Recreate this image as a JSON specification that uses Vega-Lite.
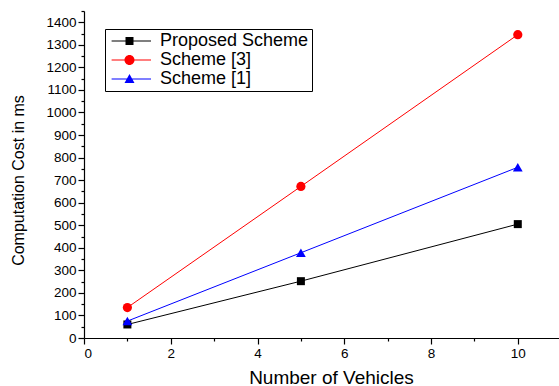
{
  "$schema": "https://vega.github.io/schema/vega-lite/v6.json",
  "width": 475,
  "height": 327,
  "autosize": "none",
  "padding": {"left": 84, "top": 11, "right": 0, "bottom": 48},
  "background": "white",
  "config": {
    "view": {"stroke": null},
    "font": "Liberation Sans",
    "axis": {"grid": false, "domainColor": "black", "tickColor": "black", "labelColor": "black", "titleColor": "black", "labelFont": "Liberation Sans", "titleFont": "Liberation Sans", "titleFontWeight": "normal"}
  },
  "data": {
    "values": [
      {"vehicles": 1, "cost": 60, "scheme": "Proposed Scheme"},
      {"vehicles": 5, "cost": 252, "scheme": "Proposed Scheme"},
      {"vehicles": 10, "cost": 505, "scheme": "Proposed Scheme"},
      {"vehicles": 1, "cost": 135, "scheme": "Scheme [3]"},
      {"vehicles": 5, "cost": 672, "scheme": "Scheme [3]"},
      {"vehicles": 10, "cost": 1345, "scheme": "Scheme [3]"},
      {"vehicles": 1, "cost": 75, "scheme": "Scheme [1]"},
      {"vehicles": 5, "cost": 378, "scheme": "Scheme [1]"},
      {"vehicles": 10, "cost": 757, "scheme": "Scheme [1]"}
    ]
  },
  "encoding": {
    "x": {"field": "vehicles", "type": "quantitative", "scale": {"domain": [0, 10.95], "nice": false, "zero": false},
      "axis": {"title": "Number of Vehicles", "values": [0, 1, 2, 3, 4, 5, 6, 7, 8, 9, 10], "format": "d", "labelExpr": "datum.value % 2 == 0 ? datum.label : ''",
        "tickSize": {"condition": {"test": "datum.value % 2 == 0", "value": 6}, "value": 3},
        "labelFontSize": 13.5, "labelPadding": 2, "titleFontSize": 19, "titleX": 247, "titleY": 45, "titleBaseline": "alphabetic", "domainWidth": 1.2, "tickWidth": 1.2}},
    "y": {"field": "cost", "type": "quantitative", "scale": {"domain": [0, 1450], "nice": false},
      "axis": {"title": "Computation Cost in ms", "values": [0, 50, 100, 150, 200, 250, 300, 350, 400, 450, 500, 550, 600, 650, 700, 750, 800, 850, 900, 950, 1000, 1050, 1100, 1150, 1200, 1250, 1300, 1350, 1400, 1450],
        "format": "d",
        "labelExpr": "datum.value % 100 == 0 ? datum.label : ''",
        "tickSize": {"condition": {"test": "datum.value % 100 == 0", "value": 6}, "value": 3},
        "labelFontSize": 13.5, "labelPadding": 2, "titleFontSize": 16, "titleX": -61, "titleY": 169, "titleAngle": 270, "titleBaseline": "alphabetic", "titleAlign": "center", "domainWidth": 1.2, "tickWidth": 1.2}}
  },
  "layer": [
    {
      "transform": [{"filter": "datum.scheme == 'Proposed Scheme'"}],
      "mark": {"type": "line", "strokeWidth": 1, "color": "#000000"}
    },
    {
      "transform": [{"filter": "datum.scheme == 'Scheme [3]'"}],
      "mark": {"type": "line", "strokeWidth": 1, "color": "#ff0000"}
    },
    {
      "transform": [{"filter": "datum.scheme == 'Scheme [1]'"}],
      "mark": {"type": "line", "strokeWidth": 1, "color": "#0000ff"}
    },
    {
      "transform": [{"filter": "datum.scheme == 'Proposed Scheme'"}],
      "mark": {"type": "point", "filled": true, "opacity": 1, "shape": "square", "size": 64, "color": "#000000"}
    },
    {
      "transform": [{"filter": "datum.scheme == 'Scheme [3]'"}],
      "mark": {"type": "point", "filled": true, "opacity": 1, "shape": "circle", "size": 85, "color": "#ff0000"}
    },
    {
      "transform": [{"filter": "datum.scheme == 'Scheme [1]'"}],
      "mark": {"type": "point", "filled": true, "opacity": 1, "shape": "triangle-up", "size": 95, "color": "#0000ff"}
    },
    {
      "mark": {"type": "point", "filled": true, "opacity": 0},
      "encoding": {
        "color": {
          "field": "scheme",
          "type": "nominal",
          "scale": {"domain": ["Proposed Scheme", "Scheme [3]", "Scheme [1]"], "range": ["#000000", "#ff0000", "#0000ff"]},
          "legend": {
            "title": null,
            "orient": "none",
            "legendX": 21,
            "legendY": 18,
            "strokeColor": "black",
            "fillColor": "white",
            "padding": 3,
            "symbolSize": 324,
            "symbolOpacity": 1,
            "symbolStrokeWidth": 0,
            "labelOffset": 34,
            "labelFontSize": 18,
            "labelColor": "black",
            "labelLimit": 300,
            "rowPadding": 1
          }
        },
        "shape": {
          "field": "scheme",
          "type": "nominal",
          "scale": {"domain": ["Proposed Scheme", "Scheme [3]", "Scheme [1]"], "range": [
            "M-0.6,-0.056H3.78V0.056H-0.6Z M0.945,-0.444H1.833V0.444H0.945Z",
            "M-0.6,-0.056H3.78V0.056H-0.6Z M1.945,0A0.556,0.556 0 1,1 0.833,0A0.556,0.556 0 1,1 1.945,0Z",
            "M-0.6,-0.056H3.78V0.056H-0.6Z M0.833,0.444L1.389,-0.556L1.945,0.444Z"
          ]},
          "legend": {
            "title": null,
            "orient": "none",
            "legendX": 21,
            "legendY": 18,
            "strokeColor": "black",
            "fillColor": "white",
            "padding": 3,
            "symbolSize": 324,
            "symbolOpacity": 1,
            "symbolStrokeWidth": 0,
            "labelOffset": 34,
            "labelFontSize": 18,
            "labelColor": "black",
            "labelLimit": 300,
            "rowPadding": 1
          }
        }
      }
    }
  ]
}
